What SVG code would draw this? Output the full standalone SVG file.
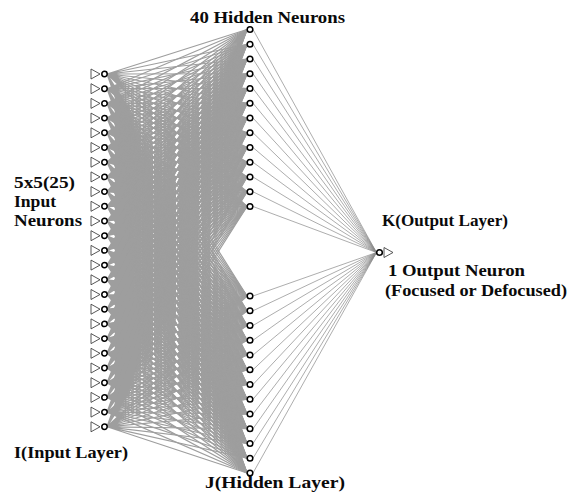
<svg xmlns="http://www.w3.org/2000/svg" xmlns:xlink="http://www.w3.org/1999/xlink" width="579" height="493" viewBox="0 0 579 493">
<style>
.bg{fill:#ffffff}
.ln{fill:none;stroke:#8a8a8a;stroke-width:0.7}
.fan{fill:none;stroke:#9e9e9e;stroke-width:1.2;vector-effect:non-scaling-stroke}
.nc{fill:#ffffff;stroke:#000000;stroke-width:1.5}
.tri{fill:#ffffff;stroke:#444444;stroke-width:0.9}
.lbl{font-family:"Liberation Serif","Times New Roman",serif;font-weight:bold;font-size:17px;fill:#0a0a0a}
</style>
<defs>
<path id="fan" class="fan" d="M0 0L140 29.5M0 0L140 44.25M0 0L140 59M0 0L140 73.75M0 0L140 88.5M0 0L140 103.25M0 0L140 118M0 0L140 132.75M0 0L140 147.5M0 0L140 162.25M0 0L140 177M0 0L140 191.75M0 0L140 206.5M0 0L140 296M0 0L140 310.75M0 0L140 325.5M0 0L140 340.25M0 0L140 355M0 0L140 369.75M0 0L140 384.5M0 0L140 399.25M0 0L140 414M0 0L140 428.75M0 0L140 443.5M0 0L140 458.25M0 0L140 473"/>
<g id="inp">
<polygon class="tri" points="91,-5 100,0 91,5"/>
<circle class="nc" cx="104.5" cy="0" r="2.7"/>
</g>
<circle id="hid" class="nc" cx="250" cy="0" r="2.8"/>
</defs>
<rect class="bg" x="0" y="0" width="579" height="493"/>
<g id="connectors">
<use xlink:href="#fan" transform="matrix(1 -0.528571 0 1 107 74)"/>
<use xlink:href="#fan" transform="matrix(1 -0.633571 0 1 107 88.7)"/>
<use xlink:href="#fan" transform="matrix(1 -0.738571 0 1 107 103.4)"/>
<use xlink:href="#fan" transform="matrix(1 -0.843571 0 1 107 118.1)"/>
<use xlink:href="#fan" transform="matrix(1 -0.948571 0 1 107 132.8)"/>
<use xlink:href="#fan" transform="matrix(1 -1.053571 0 1 107 147.5)"/>
<use xlink:href="#fan" transform="matrix(1 -1.158571 0 1 107 162.2)"/>
<use xlink:href="#fan" transform="matrix(1 -1.263571 0 1 107 176.9)"/>
<use xlink:href="#fan" transform="matrix(1 -1.368571 0 1 107 191.6)"/>
<use xlink:href="#fan" transform="matrix(1 -1.473571 0 1 107 206.3)"/>
<use xlink:href="#fan" transform="matrix(1 -1.578571 0 1 107 221)"/>
<use xlink:href="#fan" transform="matrix(1 -1.683571 0 1 107 235.7)"/>
<use xlink:href="#fan" transform="matrix(1 -1.788571 0 1 107 250.4)"/>
<use xlink:href="#fan" transform="matrix(1 -1.893571 0 1 107 265.1)"/>
<use xlink:href="#fan" transform="matrix(1 -1.998571 0 1 107 279.8)"/>
<use xlink:href="#fan" transform="matrix(1 -2.103571 0 1 107 294.5)"/>
<use xlink:href="#fan" transform="matrix(1 -2.208571 0 1 107 309.2)"/>
<use xlink:href="#fan" transform="matrix(1 -2.313571 0 1 107 323.9)"/>
<use xlink:href="#fan" transform="matrix(1 -2.418571 0 1 107 338.6)"/>
<use xlink:href="#fan" transform="matrix(1 -2.523571 0 1 107 353.3)"/>
<use xlink:href="#fan" transform="matrix(1 -2.628571 0 1 107 368)"/>
<use xlink:href="#fan" transform="matrix(1 -2.733571 0 1 107 382.7)"/>
<use xlink:href="#fan" transform="matrix(1 -2.838571 0 1 107 397.4)"/>
<use xlink:href="#fan" transform="matrix(1 -2.943571 0 1 107 412.1)"/>
<use xlink:href="#fan" transform="matrix(1 -3.048571 0 1 107 426.8)"/>
<path class="ln" d="M253 29.5L376.5 252.5M253 44.25L376.5 252.5M253 59L376.5 252.5M253 73.75L376.5 252.5M253 88.5L376.5 252.5M253 103.25L376.5 252.5M253 118L376.5 252.5M253 132.75L376.5 252.5M253 147.5L376.5 252.5M253 162.25L376.5 252.5M253 177L376.5 252.5M253 191.75L376.5 252.5M253 206.5L376.5 252.5M253 296L376.5 252.5M253 310.75L376.5 252.5M253 325.5L376.5 252.5M253 340.25L376.5 252.5M253 355L376.5 252.5M253 369.75L376.5 252.5M253 384.5L376.5 252.5M253 399.25L376.5 252.5M253 414L376.5 252.5M253 428.75L376.5 252.5M253 443.5L376.5 252.5M253 458.25L376.5 252.5M253 473L376.5 252.5"/>
</g>
<g id="input-layer">
<use xlink:href="#inp" transform="translate(0 74)"/>
<use xlink:href="#inp" transform="translate(0 88.7)"/>
<use xlink:href="#inp" transform="translate(0 103.4)"/>
<use xlink:href="#inp" transform="translate(0 118.1)"/>
<use xlink:href="#inp" transform="translate(0 132.8)"/>
<use xlink:href="#inp" transform="translate(0 147.5)"/>
<use xlink:href="#inp" transform="translate(0 162.2)"/>
<use xlink:href="#inp" transform="translate(0 176.9)"/>
<use xlink:href="#inp" transform="translate(0 191.6)"/>
<use xlink:href="#inp" transform="translate(0 206.3)"/>
<use xlink:href="#inp" transform="translate(0 221)"/>
<use xlink:href="#inp" transform="translate(0 235.7)"/>
<use xlink:href="#inp" transform="translate(0 250.4)"/>
<use xlink:href="#inp" transform="translate(0 265.1)"/>
<use xlink:href="#inp" transform="translate(0 279.8)"/>
<use xlink:href="#inp" transform="translate(0 294.5)"/>
<use xlink:href="#inp" transform="translate(0 309.2)"/>
<use xlink:href="#inp" transform="translate(0 323.9)"/>
<use xlink:href="#inp" transform="translate(0 338.6)"/>
<use xlink:href="#inp" transform="translate(0 353.3)"/>
<use xlink:href="#inp" transform="translate(0 368)"/>
<use xlink:href="#inp" transform="translate(0 382.7)"/>
<use xlink:href="#inp" transform="translate(0 397.4)"/>
<use xlink:href="#inp" transform="translate(0 412.1)"/>
<use xlink:href="#inp" transform="translate(0 426.8)"/>
</g>
<g id="hidden-layer">
<use xlink:href="#hid" y="29.5"/>
<use xlink:href="#hid" y="44.25"/>
<use xlink:href="#hid" y="59"/>
<use xlink:href="#hid" y="73.75"/>
<use xlink:href="#hid" y="88.5"/>
<use xlink:href="#hid" y="103.25"/>
<use xlink:href="#hid" y="118"/>
<use xlink:href="#hid" y="132.75"/>
<use xlink:href="#hid" y="147.5"/>
<use xlink:href="#hid" y="162.25"/>
<use xlink:href="#hid" y="177"/>
<use xlink:href="#hid" y="191.75"/>
<use xlink:href="#hid" y="206.5"/>
<use xlink:href="#hid" y="296"/>
<use xlink:href="#hid" y="310.75"/>
<use xlink:href="#hid" y="325.5"/>
<use xlink:href="#hid" y="340.25"/>
<use xlink:href="#hid" y="355"/>
<use xlink:href="#hid" y="369.75"/>
<use xlink:href="#hid" y="384.5"/>
<use xlink:href="#hid" y="399.25"/>
<use xlink:href="#hid" y="414"/>
<use xlink:href="#hid" y="428.75"/>
<use xlink:href="#hid" y="443.5"/>
<use xlink:href="#hid" y="458.25"/>
<use xlink:href="#hid" y="473"/>
</g>
<g id="output-layer">
<circle class="nc" cx="379.5" cy="252.5" r="2.8"/>
<polygon class="tri" points="384,247.5 393,252.5 384,257.5"/>
</g>
<g id="labels">
<text class="lbl" x="190" y="23" textLength="155" lengthAdjust="spacingAndGlyphs">40 Hidden Neurons</text>
<text class="lbl" x="14" y="188" textLength="61" lengthAdjust="spacingAndGlyphs">5x5(25)</text>
<text class="lbl" x="14" y="207" textLength="42" lengthAdjust="spacingAndGlyphs">Input</text>
<text class="lbl" x="14" y="226" textLength="68" lengthAdjust="spacingAndGlyphs">Neurons</text>
<text class="lbl" x="14" y="458" textLength="114" lengthAdjust="spacingAndGlyphs">I(Input Layer)</text>
<text class="lbl" x="205" y="488" textLength="140" lengthAdjust="spacingAndGlyphs">J(Hidden Layer)</text>
<text class="lbl" x="382" y="226" textLength="126" lengthAdjust="spacingAndGlyphs">K(Output Layer)</text>
<text class="lbl" x="388" y="276" textLength="137" lengthAdjust="spacingAndGlyphs">1 Output Neuron</text>
<text class="lbl" x="385" y="296" textLength="182" lengthAdjust="spacingAndGlyphs">(Focused or Defocused)</text>
</g>
</svg>
